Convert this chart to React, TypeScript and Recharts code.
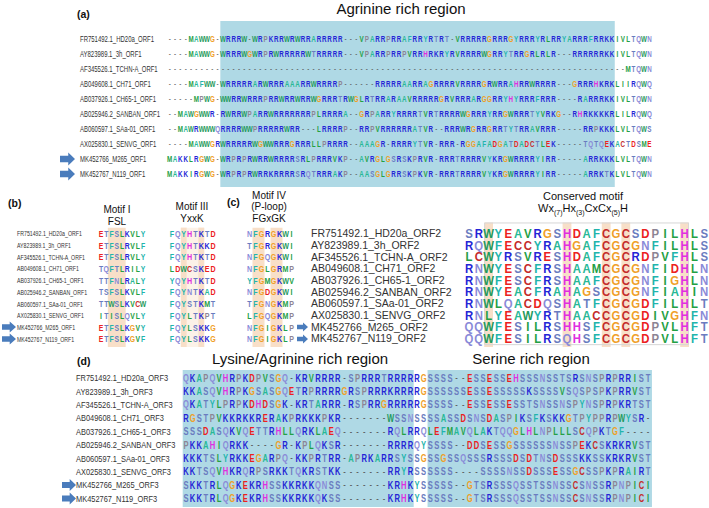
import React from 'react';
import { ScatterChart, Scatter, XAxis, YAxis, ReferenceArea } from 'recharts';

const W = 709;
const H = 508;
const FONT = "'Liberation Sans', Arial, Helvetica, sans-serif";
const BLUE = '#afd9e5';
const PEACH = '#f8dfc8';

// sequence names
const orf1Names = ['FR751492.1_HD20a_ORF1', 'AY823989.1_3h_ORF1', 'AF345526.1_TCHN-A_ORF1', 'AB049608.1_CH71_ORF1', 'AB037926.1_CH65-1_ORF1', 'AB025946.2_SANBAN_ORF1', 'AB060597.1_SAa-01_ORF1', 'AX025830.1_SENVG_ORF1', 'MK452766_M265_ORF1', 'MK452767_N119_ORF1'];
const orf2Names = ['FR751492.1_HD20a_ORF2', 'AY823989.1_3h_ORF2', 'AF345526.1_TCHN-A_ORF2', 'AB049608.1_CH71_ORF2', 'AB037926.1_CH65-1_ORF2', 'AB025946.2_SANBAN_ORF2', 'AB060597.1_SAa-01_ORF2', 'AX025830.1_SENVG_ORF2', 'MK452766_M265_ORF2', 'MK452767_N119_ORF2'];
const orf3Names = ['FR751492.1_HD20a_ORF3', 'AY823989.1_3h_ORF3', 'AF345526.1_TCHN-A_ORF3', 'AB049608.1_CH71_ORF3', 'AB037926.1_CH65-1_ORF3', 'AB025946.2_SANBAN_ORF3', 'AB060597.1_SAa-01_ORF3', 'AX025830.1_SENVG_ORF3', 'MK452766_M265_ORF3', 'MK452767_N119_ORF3'];

// (a) ORF1 alignment
const orf1Seqs = [
  '----MAWWG-WRRRW-WRPKRRWRWRRARRRRR---VPARRPRRAFRRYRTRT-VRRRRRGRRRGYRRRYRLRRYARRRFRRKKIVLTQWN',
  '----MAWWG-WRRRWGWRPRWRRRRRWTRRRRR---VPARRPRRPVRRHRKRYRVRRRRWGRRYTRRGRLRLR---RRRRRRKKIVLTQWN',
  '----------' + '----------' + '----------' + '----------' + '----------' + '----------' + '----------' + '----------' + '------' + 'MTQWN',
  '----MAFWW-WRRRRRARWRRRAAARRWRRRRP------RRRRRAARRAGRRRRVRRRRGRWRRAHRRWRRRR---GRRRHKRKLIIRQWQ',
  '-----MPWG-WWRRWRRRPRRWRRWRRWGRRRTRWGLRTRRARAAVRRRRRGRVRRRARGGRRYHYRRRFRRR----RARRRKKIVLTQWN',
  '--MAWGWWR-RWRRWPARRWRRRRRRRPLRRRRA--GRPARRYRRRRTVRTRRRRWGRRRYRRGWRRRTYVRKG--RHRKKKKRLILRQWQ',
  '--MAWRWWWQRRRRWWPRRRRRWRR---LRRRRP--RRPVRRRRRRATVR--RRRWRGRRGRRTYTRRAVRRR-----RRPKKKLVLTQWS',
  '----MAWWGRWRRRRRWGWWRRRGRRRLLPRRRR--AAAGR-RRRRYTVR-RRR-RGGAFADGATDADCTLEK-----TQTQEKACTDSME',
  'MAKKLRGWG-WRPRPRWRRWRRRRSRLPRRRVKP--AVRGLGSRSKPRVR-RRRTRRRRVYKRGWRRRRYIRR-----ARRKKKLVLTQWN',
  'MAKKIRGWG-WRPRPRWRRKRRRRSRQTRRRAKP--AASGLGRRSKPKVR-RRRTRRRRVYKRGWRRRRYIRR-----ARRKTKLVLTQWN',
];

// (b) motifs
const motif1Seqs = ['ETFSLKVLY', 'ETFSLRVLF', 'ETFSLRVLY', 'TQFTLRILY', 'TTFNLRALY', 'TSFSLKVLF', 'TTWSLKVCW', 'ITISLQVLY', 'ETFSLKGVY', 'ETFSLKGVF'];
const motif3Seqs = ['FQYHTKTD', 'FQYHTKKD', 'FQYHTKTD', 'LDWCSKED', 'YQYHTKTD', 'FQYNTKAD', 'FQYSTKMT', 'FQYLTKPT', 'FQYLSKKG', 'FQYLSKKG'];
const motif4Seqs = ['NFGRGKWI', 'TFGRGKWI', 'NFGQGKWI', 'NFGLGRMP', 'YFGMGKWV', 'NFGDGKWI', 'TFGNGKMP', 'LFGQGKMP', 'NFGIGKLP', 'NFGIGKLP'];

// (c) ORF2 conserved motif
const conservedSeqs = [
  'SRWYEAVRGSHDAFCGCSDPILHLS',
  'RQWFECCYRAHGAFCGCGNFILHLS',
  'LCWYRSVRESHDAFCGCRDPVFHLS',
  'RNWYESCFRSHAAMCGCGNFIDHLN',
  'RNWFESCFRSHAAFCGCGNFIGHLN',
  'RNWYEACFRAHAGSCGCGNFIAHIN',
  'RNWLQACDQSHATFCGCGDFILHLT',
  'RNLYEAWYRTHAACCGCGDIVGHFN',
  'QQWFESILRSHHSFCGCGDPVLHFT',
  'QQWFESILRSQHSFCGCGDPVLHFT',
];
const conservedCols = [2, 10, 14, 16, 22];

// (d) ORF3 alignment
const orf3Seqs = [
  'QKAPQVHRPKDPVSGQ-KRVRRRR-SPRRRTRRRRRGSSSS--ESSESSEHSSSNSSTSRSNSPRPRRIST',
  'KKASQVHRPKGSASGQETRPRRRRGRSPRRRKRRRRGSSSSSSESSESSSSSKSSSSVSQSPSPKPRRVST',
  'QKATYLPRPKDHDSGK-KRTARRR-RSPRRGRRRRRGSSSS--ESSESSESSTSNSSNSPYNSPRPKRTST',
  'RGSTPVKKRKKRERAKPRKKKPKR-------WSSNSSSSASSDSNSDASPIKSFKSKKGTPYPPRPWYSR-',
  'SSSDASQKVQETTRHLLQRKLAEQ-------RQLRRQLEFMAVQLAKTQQGLHLNPLLLSCQPKTGF----',
  'PKKAHIQRKK----GR-KPLQKSR-------RRRRQYSSSS--DDSESSGSSSSSSNSSPEKCSKRKRVST',
  'KKKTSLYRKKEGARPQ-KKPRTRR-APRKARRSYSSGSSGSSQSSSRSSSDSDTNSDSSSKKSSKRKRVST',
  'KKTSQVHKRQRPSRKKTQKRSTKK-------RRYRSSSSSS----SSSSNSSDSSSESSGCSSPKPRAIRT',
  'SKKTRLQGKEKRHSSKKRKKQNSS-------KRHKYSSSSS--GTSRSSSQSSTSSNSSCSNSSRPNPICI',
  'SKKTRLQGKEKRHSSKKRKKQKSS-------KRHKYSSSSS--GTSRSSSQSSTSSNSSCSNSSRPNPICI',
];

const rowIdx = [0, 1, 2, 3, 4, 5, 6, 7, 8, 9];

const residueColors: Record<string, string> = {
  R: '#2424d6', K: '#2424d6',
  H: '#e02ee0',
  D: '#ec2020', E: '#ec2020',
  C: '#c42a2a',
  G: '#f0a028',
  P: '#8c8494',
  S: '#6a7cc0', T: '#6a7cc0',
  N: '#8a8ad8', Q: '#8a8ad8',
  A: '#28b896',
  W: '#1f9a5c',
  F: '#22b4ac', Y: '#22b4ac',
  I: '#24a044', L: '#24a044', V: '#24a044', M: '#24a044',
};

type Box = { x1: number; x2: number; y1: number; y2: number; fill: string; stroke?: string };

interface PanelProps {
  seqs: string[];
  x0: number;
  pitch: number;
  y0: number;
  rowH: number;
  xMin: number;
  xMax: number;
  yMin: number;
  yMax: number;
  fontSize: number;
  scaleX: number;
  boxes?: Box[];
  names?: string[];
  nameX?: number;
  nameSize?: number;
  nameScale?: number;
}

function SeqChart(p: PanelProps) {
  const data = p.seqs.flatMap((s, r) => s.split('').map((ch, c) => ({ c, r, ch })));
  const left = p.x0 + p.xMin * p.pitch;
  const right = p.x0 + p.xMax * p.pitch;
  const top = p.y0 + p.yMin * p.rowH;
  const bottom = p.y0 + p.yMax * p.rowH;
  const nameX = p.nameX ?? 0;
  const hasNames = !!p.names;

  const residue = (props: any) => {
    const { cx, cy, payload } = props;
    if (cx == null || cy == null) return <g />;
    const ch: string = payload.ch;
    const gap = ch === '-';
    return (
      <g transform={`translate(${cx},${cy}) scale(${p.scaleX},1)`}>
        <text x={0} y={0} dy={gap ? '0.3em' : '0.36em'} textAnchor="middle" fontSize={p.fontSize}
          fontWeight={gap ? 400 : 700} fill={gap ? '#555' : residueColors[ch] || '#444'} fontFamily={FONT}>
          {ch}
        </text>
      </g>
    );
  };

  const nameTick = (props: any) => (
    <g transform={`translate(${nameX},${props.y}) scale(${p.nameScale ?? 1},1)`}>
      <text x={0} y={0} dy="0.35em" fontSize={p.nameSize} fill="#333" fontFamily={FONT}>
        {p.names ? p.names[props.payload.value] : ''}
      </text>
    </g>
  );

  return (
    <div style={{ position: 'absolute', left: 0, top: 0 }}>
      <ScatterChart width={W} height={H}
        margin={{ left: hasNames ? nameX : left, right: W - right, top, bottom: H - bottom }}>
        <XAxis type="number" dataKey="c" domain={[p.xMin, p.xMax]} hide />
        <YAxis type="number" dataKey="r" domain={[p.yMin, p.yMax]} reversed hide={!hasNames}
          width={hasNames ? left - nameX : 0} ticks={rowIdx} interval={0}
          axisLine={false} tickLine={false} tick={nameTick} />
        {(p.boxes || []).map((b, i) => (
          <ReferenceArea key={i} x1={b.x1} x2={b.x2} y1={b.y1} y2={b.y2} fill={b.fill} fillOpacity={1}
            stroke={b.stroke || 'none'} strokeWidth={1} ifOverflow="visible" />
        ))}
        <Scatter data={data} isAnimationActive={false} shape={residue} />
      </ScatterChart>
    </div>
  );
}

function Arrow({ x, y, w, h }: { x: number; y: number; w: number; h: number }) {
  const m = x + w * 0.55;
  const d = `M${x},${y - h * 0.25} L${m},${y - h * 0.25} L${m},${y - h / 2} L${x + w},${y} L${m},${y + h / 2} L${m},${y + h * 0.25} L${x},${y + h * 0.25} Z`;
  return <path d={d} fill="#4a7cbc" />;
}

export default function App() {
  const stripBoxes: Box[] = conservedCols.map((c) => ({ x1: c - 0.45, x2: c + 0.45, y1: -0.95, y2: 9.7, fill: PEACH }));
  return (
    <div style={{ position: 'absolute', left: 0, top: 0, width: W, height: H, background: '#fff', overflow: 'hidden' }}>
      <SeqChart seqs={orf1Seqs} x0={169.7} pitch={5.33} y0={39} rowH={15} xMin={-0.5} xMax={90.5} yMin={-1.2} yMax={9.87}
        fontSize={9.5} scaleX={0.66} names={orf1Names} nameX={80} nameSize={9.5} nameScale={0.63}
        boxes={[{ x1: 9.5, x2: 83.5, y1: -1.2, y2: 9.87, fill: BLUE }]} />
      <SeqChart seqs={motif1Seqs} x0={101} pitch={5.25} y0={233.5} rowH={11.7} xMin={-0.6} xMax={8.6} yMin={-0.5} yMax={9.7}
        fontSize={9.5} scaleX={0.72} names={orf1Names} nameX={17} nameSize={8} nameScale={0.655}
        boxes={[{ x1: 1.3, x2: 4.7, y1: -0.5, y2: 9.7, fill: PEACH }]} />
      <SeqChart seqs={motif3Seqs} x0={172} pitch={5.86} y0={233.5} rowH={11.7} xMin={-0.6} xMax={7.6} yMin={-0.5} yMax={9.7}
        fontSize={9.5} scaleX={0.75}
        boxes={[
          { x1: 1.5, x2: 5.5, y1: -0.5, y2: 9.7, fill: '#fcf2e8' },
          { x1: 1.5, x2: 2.5, y1: -0.5, y2: 9.7, fill: PEACH },
          { x1: 4.5, x2: 5.5, y1: -0.5, y2: 9.7, fill: PEACH },
        ]} />
      <SeqChart seqs={motif4Seqs} x0={249.5} pitch={6} y0={233.5} rowH={11.7} xMin={-0.6} xMax={7.6} yMin={-0.5} yMax={9.7}
        fontSize={9.5} scaleX={0.75}
        boxes={[
          { x1: 0.5, x2: 2.5, y1: -0.5, y2: 9.7, fill: PEACH },
          { x1: 3.5, x2: 5.5, y1: -0.5, y2: 9.7, fill: PEACH },
        ]} />
      <SeqChart seqs={conservedSeqs} x0={469} pitch={9.8} y0={233.5} rowH={11.7} xMin={-0.5} xMax={24.45} yMin={-0.95} yMax={9.7}
        fontSize={12} scaleX={0.95} names={orf2Names} nameX={311} nameSize={10.5} nameScale={1}
        boxes={[...stripBoxes, { x1: 1.6, x2: 22.4, y1: -0.9, y2: 9.5, fill: 'none', stroke: '#d6d6d6' }]} />
      <SeqChart seqs={orf3Seqs} x0={186} pitch={6.6} y0={378} rowH={13.4} xMin={-0.5} xMax={70.6} yMin={-0.6} yMax={9.63}
        fontSize={10} scaleX={0.76} names={orf3Names} nameX={76} nameSize={9.3} nameScale={0.8}
        boxes={[
          { x1: -0.5, x2: 34.5, y1: -0.6, y2: 9.63, fill: BLUE },
          { x1: 36.6, x2: 70.6, y1: -0.6, y2: 9.63, fill: BLUE },
        ]} />

      <svg width={W} height={H} style={{ position: 'absolute', left: 0, top: 0 }} fontFamily={FONT}>
        <text x={77} y={18} fontSize={10.5} fontWeight={700} fill="#111">(a)</text>
        <text x={401} y={14} fontSize={15} textAnchor="middle" fill="#111">Agrinine rich region</text>

        <text x={8} y={207} fontSize={10.5} fontWeight={700} fill="#111">(b)</text>
        <text x={117} y={213} fontSize={10} textAnchor="middle" fill="#111">Motif I</text>
        <text x={117} y={225} fontSize={10} textAnchor="middle" fill="#111">FSL</text>
        <text x={192} y={210} fontSize={10} textAnchor="middle" fill="#111">Motif III</text>
        <text x={192} y={222} fontSize={10} textAnchor="middle" fill="#111">YxxK</text>

        <text x={227} y={206} fontSize={10.5} fontWeight={700} fill="#111">(c)</text>
        <text x={269} y={199} fontSize={10} textAnchor="middle" fill="#111">Motif IV</text>
        <text x={269} y={210} fontSize={10} textAnchor="middle" fill="#111">(P-loop)</text>
        <text x={269} y={222} fontSize={10} textAnchor="middle" fill="#111">FGxGK</text>
        <text x={583} y={200} fontSize={11} textAnchor="middle" fill="#111">Conserved motif</text>
        <text x={583} y={212} fontSize={11} textAnchor="middle" fill="#111">
          Wx<tspan fontSize={7} dy={3}>(7)</tspan><tspan dy={-3}>Hx</tspan><tspan fontSize={7} dy={3}>(3)</tspan>
          <tspan dy={-3}>CxCx</tspan><tspan fontSize={7} dy={3}>(5)</tspan><tspan dy={-3}>H</tspan>
        </text>

        <text x={77} y={365} fontSize={10.5} fontWeight={700} fill="#111">(d)</text>
        <text x={300} y={364} fontSize={15} textAnchor="middle" fill="#111">Lysine/Agrinine rich region</text>
        <text x={531} y={364} fontSize={15} textAnchor="middle" fill="#111">Serine rich region</text>

        <Arrow x={60} y={159} w={15} h={13} />
        <Arrow x={60} y={174} w={15} h={13} />
        <Arrow x={2} y={327} w={14} h={11} />
        <Arrow x={2} y={339} w={14} h={11} />
        <Arrow x={297} y={327} w={11} h={9} />
        <Arrow x={297} y={339} w={11} h={9} />
        <Arrow x={62} y={485} w={14} h={12} />
        <Arrow x={62} y={498.6} w={14} h={12} />
      </svg>
    </div>
  );
}
